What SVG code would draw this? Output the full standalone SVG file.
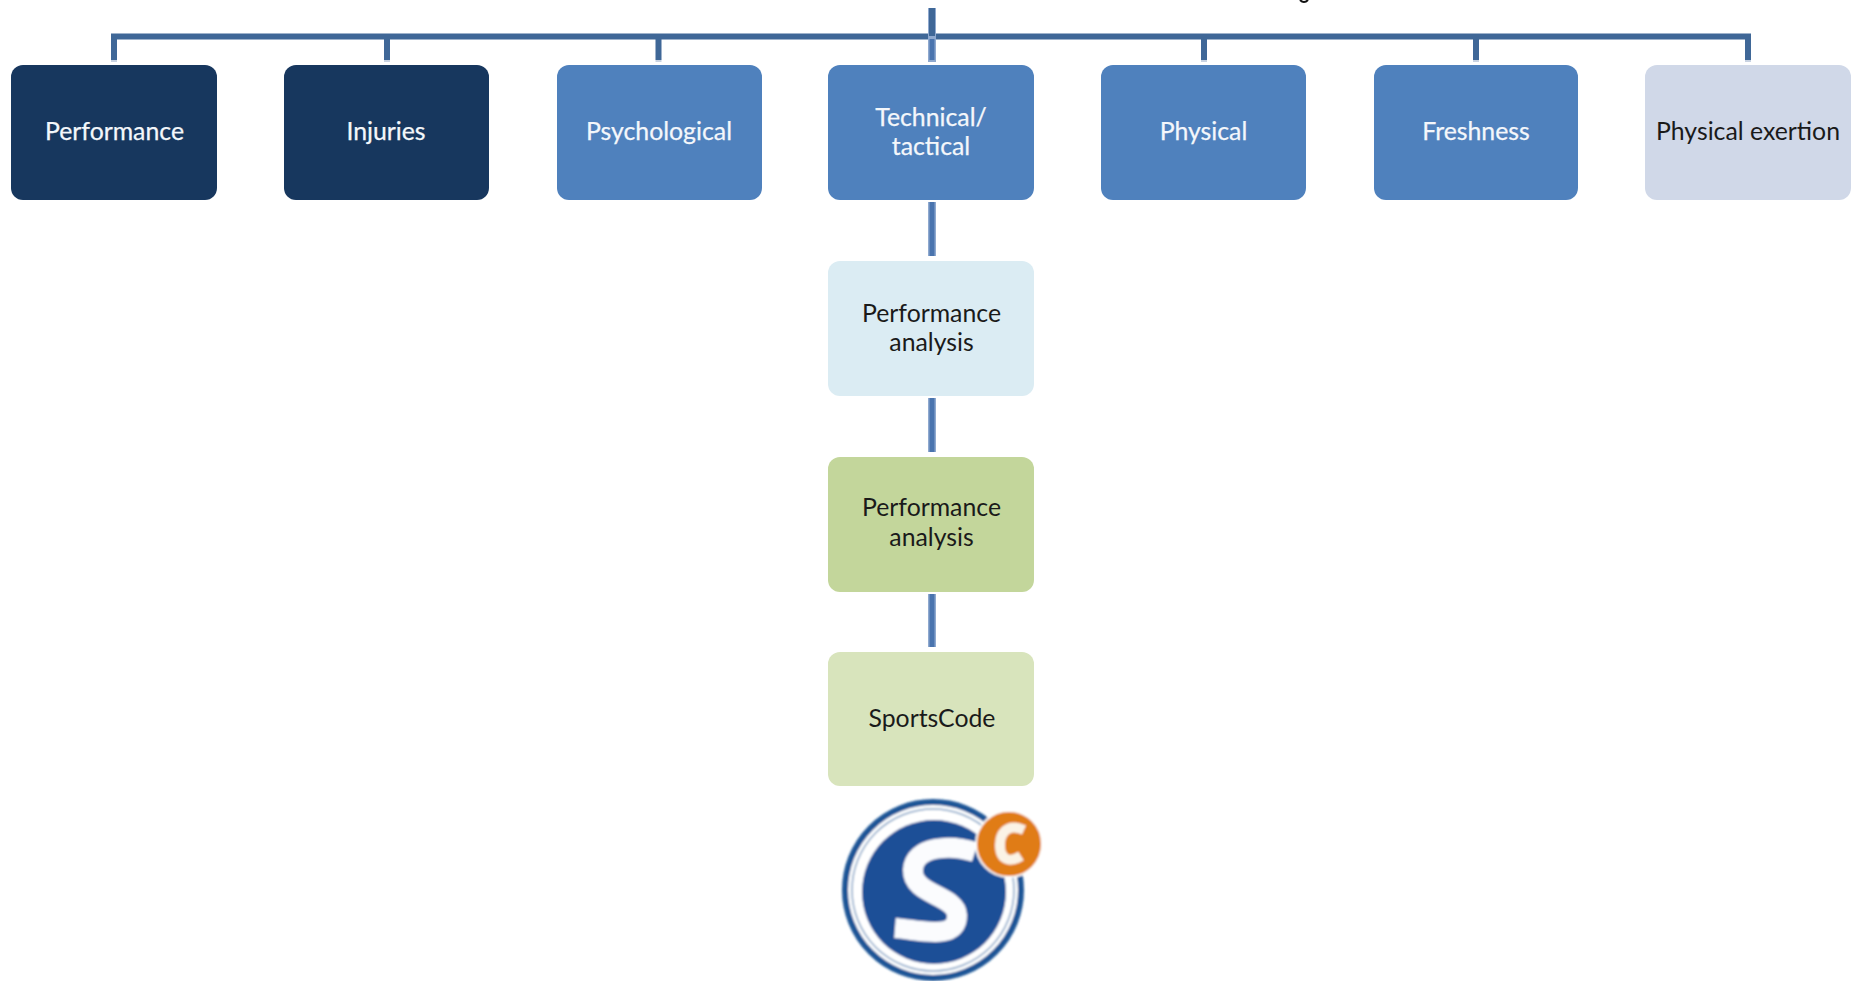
<svg xmlns="http://www.w3.org/2000/svg" width="1852" height="981" viewBox="0 0 1852 981">
<style>
text{font-family:Lato,"Liberation Sans",sans-serif;font-size:24.800px;text-anchor:middle}
.w{fill:#f4f7fb;stroke:#f4f7fb;stroke-width:.25}.k{fill:#1a1a1a}
.box{stroke:none}
.dk{fill:#17375e}.bl{fill:#4f81bd}.pl{fill:#d0d8e8}.lb{fill:#dbecf3}.gr{fill:#c3d69b}.lg{fill:#d8e4bc}
.c{fill:none;stroke:#3f6797;stroke-width:6}
.h{fill:none;stroke:#8fa9cf;stroke-width:8}
.i{fill:none;stroke:#4a74ae;stroke-width:5}
.f{fill:none;stroke:#c9d3e2;stroke-width:6}
</style>
<defs><filter id="soft" x="-5%" y="-5%" width="110%" height="110%"><feGaussianBlur stdDeviation="0.900"/></filter></defs>
<rect width="1852" height="981" fill="#fff"/>
<path d="M1300 0q4 4 8 0" fill="none" stroke="#111" stroke-width="2"/>
<g id="connectors">
<path class="f" d="M114 60v2M387 60v2M658.500 60v2M932 60v2M1204 60v2M1476 60v2M1748 60v2"/>
<path class="c" d="M114 60V36.500H1748V60M387 36.500V60M658.500 36.500V60M1204 36.500V60M1476 36.500V60"/>
<path class="h" d="M932 8V62"/>
<path class="c" d="M932 8V36" stroke-width="8"/>
<path class="i" d="M932 39V60"/>
<path class="h" d="M932 202V256M932 398V452M932 594V647"/>
<path class="i" d="M932 202V256M932 398V452M932 594V647"/>
</g>
<g id="n-performance"><rect class="box dk" x="11" y="65" width="206" height="135" rx="12"/><text class="w" x="114.500" y="140">Performance</text></g>
<g id="n-injuries"><rect class="box dk" x="284" y="65" width="205" height="135" rx="12"/><text class="w" x="386" y="140">Injuries</text></g>
<g id="n-psychological"><rect class="box bl" x="557" y="65" width="205" height="135" rx="12"/><text class="w" x="659" y="140">Psychological</text></g>
<g id="n-technical"><rect class="box bl" x="828" y="65" width="206" height="135" rx="12"/><text class="w" x="931" y="126">Technical/</text><text class="w" x="931" y="155">tactical</text></g>
<g id="n-physical"><rect class="box bl" x="1101" y="65" width="205" height="135" rx="12"/><text class="w" x="1203.500" y="140">Physical</text></g>
<g id="n-freshness"><rect class="box bl" x="1374" y="65" width="204" height="135" rx="12"/><text class="w" x="1476" y="140">Freshness</text></g>
<g id="n-exertion"><rect class="box pl" x="1645" y="65" width="206" height="135" rx="12"/><text class="k" x="1748" y="140">Physical exertion</text></g>
<g id="n-analysis1"><rect class="box lb" x="828" y="261" width="206" height="135" rx="12"/><text class="k" x="931.500" y="322">Performance</text><text class="k" x="931.500" y="351">analysis</text></g>
<g id="n-analysis2"><rect class="box gr" x="828" y="457" width="206" height="135" rx="12"/><text class="k" x="931.500" y="516">Performance</text><text class="k" x="931.500" y="546">analysis</text></g>
<g id="n-sportscode"><rect class="box lg" x="828" y="652" width="206" height="134" rx="12"/><text class="k" x="932" y="727">SportsCode</text></g>
<g id="logo" filter="url(#soft)">
<circle cx="933" cy="890" r="88" fill="#fff" stroke="#1f5596" stroke-width="6"/>
<circle cx="933" cy="890" r="81" fill="#fff" stroke="#7fa0c4" stroke-width="1.500"/>
<circle cx="934" cy="892" r="72" fill="#1f4f97"/>
<path d="M975 852C950 844 914 846 913 870C912 895 956 895 957 915C958 941 920 930 895 928" fill="none" stroke="#fbfcfe" stroke-width="20"/>
<circle cx="1009" cy="844" r="33" fill="#e07b16" stroke="#fff" stroke-width="2"/>
<path d="M1024 830C1006 822 1000 835 1000 845C1000 862 1012 862 1021 856" fill="none" stroke="#fbf3e6" stroke-width="10"/>
</g>
</svg>
